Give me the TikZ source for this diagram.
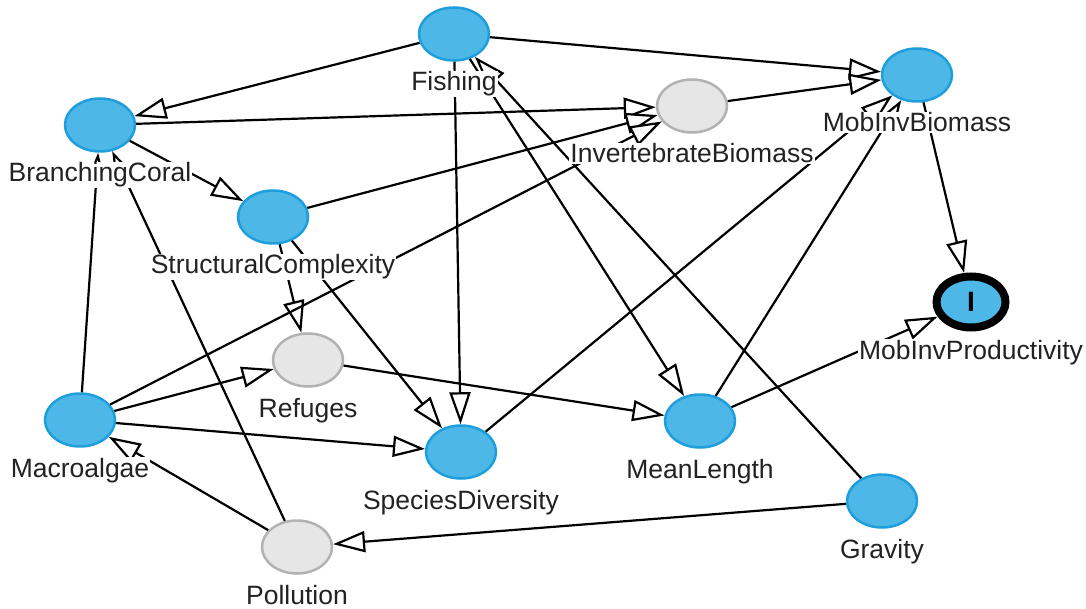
\documentclass[tikz,border=0pt]{standalone}
\usepackage{fontspec}
\setmainfont{Liberation Sans}
\usetikzlibrary{shapes.geometric,arrows.meta}
\definecolor{nodeblue}{RGB}{77,184,232}
\definecolor{nodeborder}{RGB}{30,158,218}
\definecolor{greyfill}{RGB}{230,230,230}
\definecolor{greyborder}{RGB}{178,178,178}
\definecolor{labtext}{RGB}{34,34,34}
\begin{document}
\begin{tikzpicture}[x=1pt,y=-1pt,
 bn/.style={ellipse, draw=nodeborder, fill=nodeblue, line width=2.5pt, minimum width=70pt, minimum height=53pt, inner sep=0pt},
 gn/.style={ellipse, draw=greyborder, fill=greyfill, line width=2.5pt, minimum width=70pt, minimum height=53pt, inner sep=0pt},
 mipn/.style={ellipse, draw=black, fill=nodeblue, line width=8pt, minimum width=69pt, minimum height=51pt, inner sep=0pt, font=\bfseries\fontsize{28}{28}\selectfont},
 lab/.style={anchor=base, fill=white, inner sep=1pt, text=labtext, font=\fontsize{26.5}{30}\selectfont},
 arr/.style={line width=2.2pt, black, -{Triangle[length=32pt, width=21pt, line width=2.2pt, fill=white]}}
]
\useasboundingbox (0,0) rectangle (1086,609);
% nodes
\node[bn] (fish) at (454,34) {};
\node[bn] (mib) at (917,75) {};
\node[gn] (ib) at (692,106) {};
\node[bn] (bc) at (100,125) {};
\node[bn] (sc) at (273,217) {};
\node[mipn] (mip) at (971,302) {I};
\node[gn] (ref) at (308,360) {};
\node[bn] (mac) at (80,420) {};
\node[bn] (sd) at (461,452) {};
\node[bn] (ml) at (700,421) {};
\node[bn] (grav) at (882,501) {};
\node[gn] (pol) at (297,547) {};
% edges
\draw[arr] (fish) -- (bc);
\draw[arr] (fish) -- (mib);
\draw[arr] (fish) -- (sd);
\draw[arr] (fish) -- (ml);
\draw[arr] (grav) -- (fish);
\draw[arr] (bc) -- (ib);
\draw[arr] (bc) -- (sc);
\draw[arr] (sc) -- (ib);
\draw[arr] (sc) -- (ref);
\draw[arr] (sc) -- (sd);
\draw[arr] (ib) -- (mib);
\draw[arr] (mib) -- (mip);
\draw[arr] (ml) -- (mip);
\draw[arr] (ml) -- (mib);
\draw[arr] (sd) -- (mib);
\draw[arr] (mac) -- (ib);
\draw[arr] (mac) -- (ref);
\draw[arr] (mac) -- (sd);
\draw[arr] (mac) -- (bc);
\draw[arr] (pol) -- (bc);
\draw[arr] (pol) -- (mac);
\draw[arr] (grav) -- (pol);
\draw[arr] (ref) -- (ml);
% labels
\node[lab] (fishL) at (454,91) {Fishing};
\node[lab] (mibL) at (917,132) {MobInvBiomass};
\node[lab] (ibL) at (692,163) {InvertebrateBiomass};
\node[lab] (bcL) at (100,182) {BranchingCoral};
\node[lab] (scL) at (273,274) {StructuralComplexity};
\node[lab] (mipL) at (971,359) {MobInvProductivity};
\node[lab] (refL) at (308,417) {Refuges};
\node[lab] (macL) at (80,477) {Macroalgae};
\node[lab] (sdL) at (461,509) {SpeciesDiversity};
\node[lab] (mlL) at (700,478) {MeanLength};
\node[lab] (gravL) at (882,558) {Gravity};
\node[lab] (polL) at (297,604) {Pollution};
\end{tikzpicture}
\end{document}
